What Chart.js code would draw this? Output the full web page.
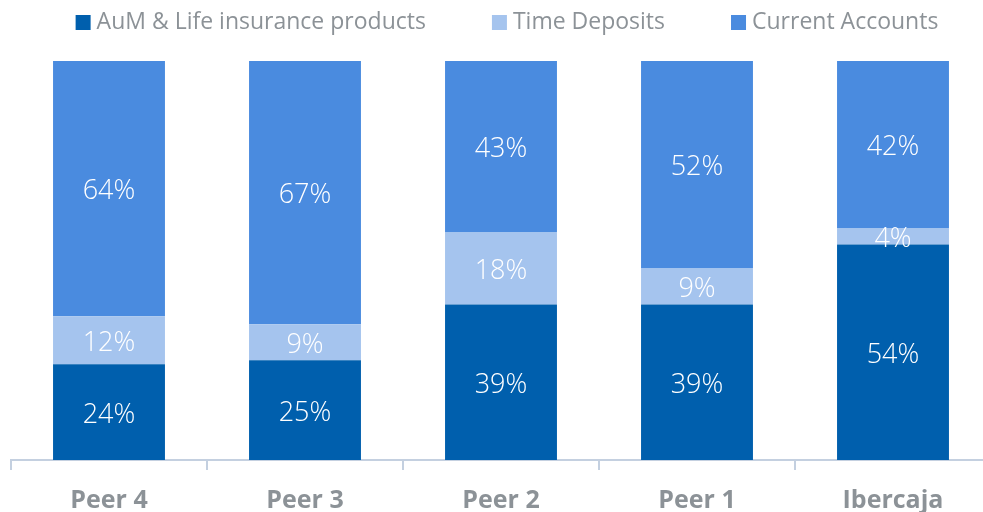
<!DOCTYPE html>
<html>
<head>
<meta charset="utf-8">
<script src="https://cdn.jsdelivr.net/npm/chart.js@4/dist/chart.umd.min.js"></script>
<style>
  html, body { margin: 0; padding: 0; overflow: hidden; background: #fff; }
  #wrap { position: absolute; left: 0; top: 0; width: 1002px; height: 512px; }
</style>
</head>
<body>
<div id="wrap"><canvas id="myChart"></canvas></div>
<script>
// valores em %
const categorias = ["Peer 4", "Peer 3", "Peer 2", "Peer 1", "Ibercaja"];
const aum = [24, 25, 39, 39, 54];
const depositos = [12, 9, 18, 9, 4];
const contas = [64, 67, 43, 52, 42];

const cinza = "rgb(140, 146, 151)";

// rótulos brancos no meio de cada segmento
const rotulosPlugin = {
  id: "rotulos",
  afterDatasetsDraw(chart) {
    const ctx = chart.ctx;
    ctx.save();
    ctx.fillStyle = "#fff";
    ctx.font = "300 27px 'Open Sans'";
    ctx.textAlign = "center";
    ctx.textBaseline = "middle";
    chart.data.datasets.forEach((ds, i) => {
      const meta = chart.getDatasetMeta(i);
      meta.data.forEach((bar, j) => {
        const top = Math.max(bar.y, chart.chartArea.top);
        const y = (top + bar.base) / 2;
        ctx.fillText(ds.data[j] + "%", bar.x, y + 3);
      });
    });
    ctx.restore();
  }
};

// legenda desenhada à mão (o espaçamento da legenda padrão não bate)
const legendaPlugin = {
  id: "legenda",
  afterDraw(chart) {
    const ctx = chart.ctx;
    ctx.save();
    ctx.font = "23px 'Open Sans'";
    ctx.textBaseline = "middle";
    const caixa = 15, folga = 6, entre = 66;
    const itens = chart.data.datasets.map(ds => ({
      texto: ds.label,
      cor: ds.backgroundColor,
      largura: caixa + folga + ctx.measureText(ds.label).width
    }));
    const total = itens.reduce((s, it) => s + it.largura, 0) + entre * (itens.length - 1);
    const centro = (chart.chartArea.left + chart.chartArea.right) / 2 + 6;
    let x = centro - total / 2;
    const yc = 22.5;
    itens.forEach(it => {
      ctx.fillStyle = it.cor;
      ctx.fillRect(x, yc - caixa / 2, caixa, caixa);
      ctx.fillStyle = cinza;
      ctx.fillText(it.texto, x + caixa + folga, yc);
      x += it.largura + entre;
    });
    ctx.restore();
  }
};

const ctx = document.getElementById("myChart").getContext("2d");
new Chart(ctx, {
  type: "bar",
  data: {
    labels: categorias,
    datasets: [
      { label: "AuM & Life insurance products", data: aum, backgroundColor: "rgb(0, 95, 173)" },
      { label: "Time Deposits", data: depositos, backgroundColor: "rgb(165, 196, 238)" },
      { label: "Current Accounts", data: contas, backgroundColor: "rgb(74, 139, 223)" }
    ]
  },
  options: {
    responsive: true,
    maintainAspectRatio: false,
    animation: false,
    datasets: {
      bar: { barPercentage: 1, categoryPercentage: 0.571 }
    },
    layout: { padding: { left: 11, right: 11, top: 61, bottom: -19 } },
    plugins: {
      legend: { display: false },
      tooltip: { enabled: false }
    },
    scales: {
      x: {
        stacked: true,
        border: { display: true, color: "rgb(196, 208, 224)", width: 2 },
        grid: {
          display: true,
          drawOnChartArea: false,
          drawTicks: true,
          tickLength: 10,
          color: "rgb(196, 208, 224)",
          lineWidth: 2
        },
        ticks: {
          color: cinza,
          padding: 18,
          font: { family: "'Open Sans'", size: 25, weight: "bold", lineHeight: 1 }
        }
      },
      y: {
        stacked: true,
        display: false,
        min: 0,
        max: 100
      }
    }
  },
  plugins: [rotulosPlugin, legendaPlugin]
});
</script>
</body>
</html>
